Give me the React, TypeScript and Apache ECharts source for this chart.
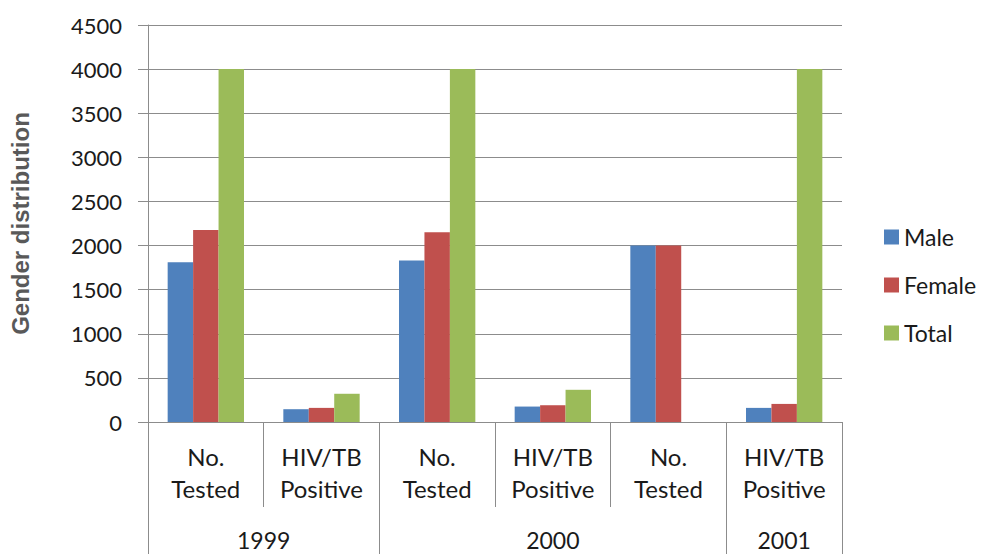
import React, { useEffect, useRef } from "react";
import * as echarts from "echarts";

const categories = [
  "No.\nTested",
  "HIV/TB\nPositive",
  "No.\nTested",
  "HIV/TB\nPositive",
  "No.\nTested",
  "HIV/TB\nPositive",
];
const years = ["1999", "2000", "2001"];
const yearSpans = [2, 3, 1];
const male = [1810, 145, 1830, 175, 2000, 160];
const female = [2175, 160, 2150, 190, 2000, 205];
const total: (number | null)[] = [4000, 320, 4000, 365, null, 4000];
const yMin = 0;
const yMax = 4500;
const yStep = 500;

const W = 985;
const H = 554;
const LINE = "#8c8c8c";
const FONT = "Lato, 'Open Sans', sans-serif";

export default function App() {
  const ref = useRef<HTMLDivElement>(null);
  useEffect(() => {
    if (!ref.current) return;
    const chart = echarts.init(ref.current, null, { renderer: "svg" });
    const bar = (name: string, data: (number | null)[], color: string) => ({
      name,
      type: "bar",
      data,
      barGap: "0%",
      barCategoryGap: "34%",
      itemStyle: { color },
    });
    chart.setOption({
      animation: false,
      backgroundColor: "#fff",
      grid: { left: 148, right: 143, top: 25, bottom: 132, containLabel: false },
      legend: {
        orient: "vertical",
        left: 884,
        top: 225,
        padding: 0,
        itemWidth: 15,
        itemHeight: 15,
        itemGap: 24,
        icon: "rect",
        textStyle: { fontSize: 23, lineHeight: 24, color: "#1a1a1a", fontFamily: FONT },
        data: ["Male", "Female", "Total"],
      },
      xAxis: {
        type: "category",
        data: categories,
        axisLine: { lineStyle: { color: LINE } },
        axisTick: { show: true, interval: 0, length: 85, lineStyle: { color: LINE } },
        axisLabel: {
          interval: 0,
          margin: 18,
          fontSize: 24,
          lineHeight: 32,
          color: "#1a1a1a",
          fontFamily: FONT,
        },
      },
      yAxis: {
        type: "value",
        min: yMin,
        max: yMax,
        interval: yStep,
        name: "Gender distribution",
        nameLocation: "middle",
        nameGap: 116,
        nameRotate: 90,
        nameTextStyle: {
          fontSize: 24,
          fontWeight: "bold",
          color: "#595959",
          fontFamily: "'Liberation Sans', Arial, sans-serif",
        },
        axisLine: { show: true, lineStyle: { color: LINE } },
        axisTick: { show: true, length: 10, lineStyle: { color: LINE } },
        splitLine: { show: true, lineStyle: { color: LINE } },
        axisLabel: {
          fontSize: 22,
          margin: 26,
          color: "#1a1a1a",
          fontFamily: FONT,
          formatter: (v: number) => String(v),
        },
      },
      series: [
        bar("Male", male, "#4F81BD"),
        bar("Female", female, "#C0504D"),
        bar("Total", total, "#9BBB59"),
      ],
    });

    const px = (i: number) => chart.convertToPixel({ xAxisIndex: 0 }, i) as number;
    const band = px(1) - px(0);
    const y0 = chart.convertToPixel({ yAxisIndex: 0 }, 0) as number;
    const graphics: any[] = [];
    let start = 0;
    const addLine = (x: number) =>
      graphics.push({
        type: "line",
        shape: { x1: x, y1: y0, x2: x, y2: H },
        style: { stroke: LINE, lineWidth: 1 },
        silent: true,
      });
    addLine(Math.round(px(0) - band / 2) + 0.5);
    years.forEach((yr, k) => {
      const end = start + yearSpans[k];
      const left = px(start) - band / 2;
      const right = px(end - 1) + band / 2;
      addLine(Math.round(right) + 0.5);
      graphics.push({
        type: "text",
        x: (left + right) / 2,
        y: 540,
        style: {
          text: yr,
          fontSize: 23,
          fontFamily: FONT,
          fill: "#1a1a1a",
          textAlign: "center",
          textVerticalAlign: "middle",
        },
        silent: true,
      });
      start = end;
    });
    chart.setOption({ graphic: graphics });
    return () => chart.dispose();
  }, []);
  return (
    <div
      ref={ref}
      style={{ position: "fixed", left: 0, top: 0, width: W, height: H }}
    />
  );
}
